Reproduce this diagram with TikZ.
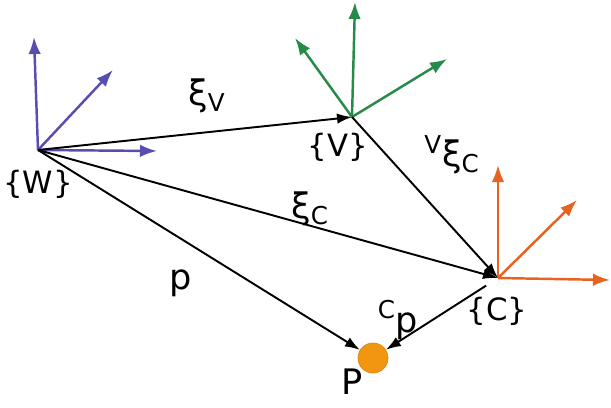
\documentclass[tikz,border=0pt]{standalone}
\usepackage{fontspec}
\setmainfont{DejaVu Sans}
\usetikzlibrary{arrows.meta,positioning}

\definecolor{wblue}{RGB}{88,78,178}
\definecolor{vgreen}{RGB}{38,138,72}
\definecolor{corange}{RGB}{232,98,32}
\definecolor{pfill}{RGB}{242,150,18}

\begin{document}
\begin{tikzpicture}[
    x=0.02cm, y=-0.02cm,
    font=\fontsize{17.5}{20}\selectfont,
    axis/.style={-{Latex[length=3.4mm,width=2.5mm]}, line width=1.4pt},
    vect/.style={-{Latex[length=3mm,width=2.1mm]}, line width=1.1pt, draw=black},
    lbl/.style={inner sep=0pt},
    biglbl/.style={inner sep=0pt, font=\fontsize{20}{23}\selectfont},
    point/.style={circle, fill=pfill, draw=pfill!90!black, minimum size=0.6cm, inner sep=0pt}
]
    \useasboundingbox (0,0) rectangle (611,407);

    % --- Repères ---
    \coordinate (W) at (38,150);
    \coordinate (V) at (352,117);
    \coordinate (C) at (498,278);
    \node[point] (P) at (373,358) {};

    \coordinate (wz) at (34,37);
    \coordinate (wy) at (113,70);
    \coordinate (wx) at (157,151);

    \coordinate (vz) at (355,2);
    \coordinate (vy) at (295,38);
    \coordinate (vx) at (447,59);

    \coordinate (cz) at (498,165);
    \coordinate (cy) at (577,200);
    \coordinate (cx) at (610,280);

    \draw[axis, draw=wblue] (W) -- (wz);
    \draw[axis, draw=wblue] (W) -- (wy);
    \draw[axis, draw=wblue] (W) -- (wx);

    \draw[axis, draw=vgreen] (V) -- (vz);
    \draw[axis, draw=vgreen] (V) -- (vy);
    \draw[axis, draw=vgreen] (V) -- (vx);

    \draw[axis, draw=corange] (C) -- (cz);
    \draw[axis, draw=corange] (C) -- (cy);
    \draw[axis, draw=corange] (C) -- (cx);

    % --- Vecteurs ---
    \draw[vect] (W) -- (V);
    \draw[vect] (W) -- (C);
    \draw[vect] (W) -- (P);
    \draw[vect] (V) -- (C);
    \draw[vect, shorten <=8pt] (C) -- (P);

    % --- Étiquettes ---
    \node[lbl] (wlabel) at (38,184) {\{W\}};
    \node[lbl] (vlabel) at (338,147) {\{V\}};
    \node[lbl] (clabel) at (497,311) {\{C\}};
    \node[biglbl] (plabel) at (352,382) {P};

    \node[biglbl] (xiv) at (207,96) {ξ\textsubscript{V}};
    \node[biglbl] (vxic) at (452,155) {\textsuperscript{V}ξ\textsubscript{C}};
    \node[biglbl] (xic) at (310,209) {ξ\textsubscript{C}};
    \node[biglbl] (plen) at (181,283) {p};
    \node[biglbl] (cp) at (398,320) {\textsuperscript{C}p};

\end{tikzpicture}
\end{document}
